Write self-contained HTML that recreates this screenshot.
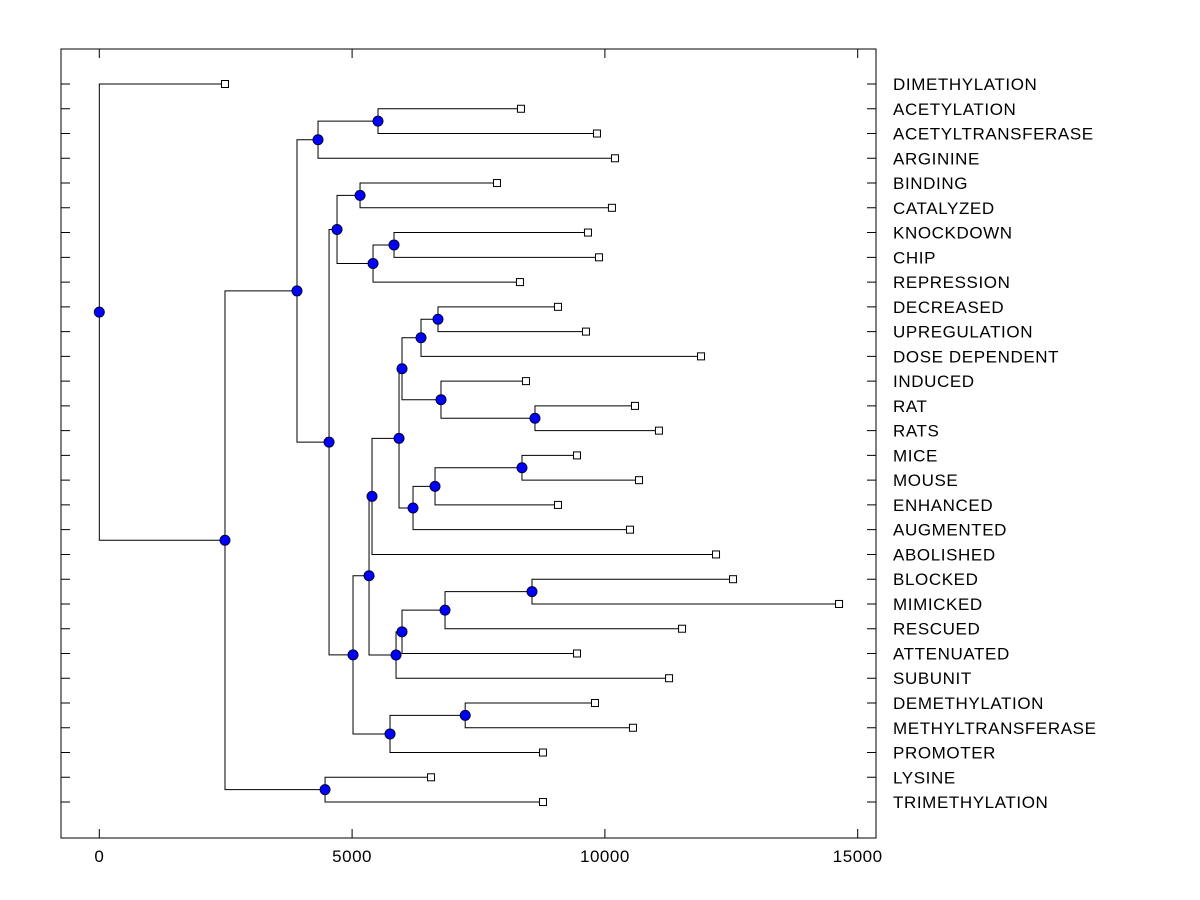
<!DOCTYPE html>
<html><head><meta charset="utf-8"><style>
body{margin:0;background:#fff;}
svg{display:block;font-family:"Liberation Sans",Arial,sans-serif;}
</style></head><body>
<svg id="chart" width="1200" height="900" viewBox="0 0 1200 900" xmlns="http://www.w3.org/2000/svg">
<rect x="0" y="0" width="1200" height="900" fill="#fff"/>
<g id="links"></g>
<g id="marks"></g>
<g id="axes"></g>
</svg>
<script>
const leafNames = ["DIMETHYLATION","ACETYLATION","ACETYLTRANSFERASE","ARGININE","BINDING","CATALYZED","KNOCKDOWN","CHIP","REPRESSION","DECREASED","UPREGULATION","DOSE DEPENDENT","INDUCED","RAT","RATS","MICE","MOUSE","ENHANCED","AUGMENTED","ABOLISHED","BLOCKED","MIMICKED","RESCUED","ATTENUATED","SUBUNIT","DEMETHYLATION","METHYLTRANSFERASE","PROMOTER","LYSINE","TRIMETHYLATION"];
const leafValues = [2486,8340,9843,10199,7866,10139,9665,9883,8320,9072,9626,11901,8439,10595,11069,9448,10674,9072,10496,12198,12534,14631,11526,9448,11269,9804,10555,8775,6561,8775];
const mergeLeft  = [1,30,4,6,33,32,9,36,13,12,37,15,41,42,40,44,20,46,47,48,45,25,51,50,35,31,28,55,0];
const mergeRight = [2,3,5,7,8,34,10,11,14,38,39,16,17,18,43,19,21,22,23,24,49,26,27,52,53,54,29,56,57];
const mergeHeight= [5512,4326,5157,5829,5414,4702,6699,6363,8617,6758,5987,8360,6640,6205,5928,5394,8558,6838,5987,5869,5335,7237,5750,5018,4544,3910,4465,2486,0];
const xTicks = [0,5000,10000,15000];

const NS="http://www.w3.org/2000/svg";
const L=61,R=876,T=49,B=838;
const xs=v=>99.3+v*0.05056;
const ys=i=>84+i*24.76;
function mk(tag,attrs,parent){const e=document.createElementNS(NS,tag);for(const k in attrs)e.setAttribute(k,attrs[k]);parent.appendChild(e);return e;}
const links=document.getElementById('links'),marks=document.getElementById('marks'),axes=document.getElementById('axes');
const nx=[],ny=[];
leafValues.forEach((v,i)=>{nx[i]=xs(v);ny[i]=ys(i);});
const n=leafNames.length;
mergeHeight.forEach((h,k)=>{
  const id=n+k,a=mergeLeft[k],b=mergeRight[k];
  nx[id]=xs(h);ny[id]=(ny[a]+ny[b])/2;
  const p=mk('path',{d:`M${nx[a]},${ny[a]}H${nx[id]}V${ny[b]}H${nx[b]}`,fill:'none',stroke:'#000','stroke-width':1},links);
  
  
});
leafValues.forEach((v,i)=>{
  const s=mk('rect',{x:nx[i]-3.5,y:ny[i]-3.5,width:7,height:7,fill:'#fff',stroke:'#000','stroke-width':1},marks);
  
  
  const t=mk('text',{x:893,y:ny[i]+6,'font-size':17,'letter-spacing':0.6,fill:'#000'},axes);
  t.textContent=leafNames[i];
  
  
  const tl=mk('path',{d:`M${L},${ny[i]}h9M${R},${ny[i]}h-9`,stroke:'#000','stroke-width':1},axes);
  
  
});
mergeHeight.forEach((h,k)=>{
  const id=n+k;
  const c=mk('circle',{cx:nx[id],cy:ny[id],r:5,fill:'#0000ff',stroke:'#000033','stroke-width':1},marks);
  
  
});
const frame=mk('rect',{x:L,y:T,width:R-L,height:B-T,fill:'none',stroke:'#000','stroke-width':1},axes);


xTicks.forEach(v=>{
  const x=xs(v);
  const tk=mk('path',{d:`M${x},${B}v-9M${x},${T}v9`,stroke:'#000','stroke-width':1},axes);
  
  
  const t=mk('text',{x:x,y:862,'font-size':17,'letter-spacing':0.5,'text-anchor':'middle',fill:'#000'},axes);
  t.textContent=v;
  
  
});
</script>
</body></html>
